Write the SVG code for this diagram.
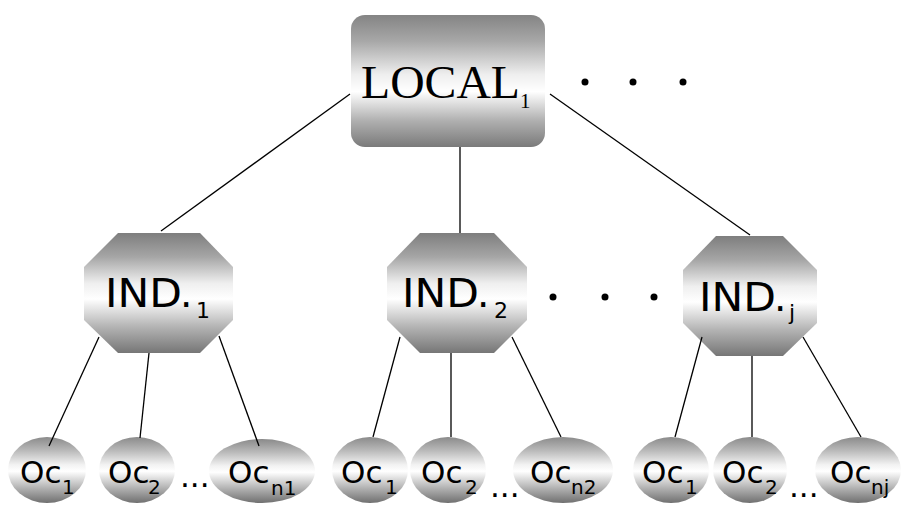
<svg xmlns="http://www.w3.org/2000/svg" width="901" height="505" viewBox="0 0 901 505">
<defs>
<linearGradient id="gBox" x1="0" y1="0" x2="0" y2="1">
<stop offset="0" stop-color="#848484"/>
<stop offset="0.2" stop-color="#a8a8a8"/>
<stop offset="0.45" stop-color="#eeeeee"/>
<stop offset="0.58" stop-color="#ffffff"/>
<stop offset="0.8" stop-color="#b0b0b0"/>
<stop offset="1" stop-color="#7a7a7a"/>
</linearGradient>
<linearGradient id="gOct" x1="0" y1="0" x2="0" y2="1">
<stop offset="0" stop-color="#7e7e7e"/>
<stop offset="0.2" stop-color="#a6a6a6"/>
<stop offset="0.42" stop-color="#efefef"/>
<stop offset="0.55" stop-color="#ffffff"/>
<stop offset="0.78" stop-color="#b4b4b4"/>
<stop offset="1" stop-color="#767676"/>
</linearGradient>
<linearGradient id="gEl" x1="0" y1="0" x2="0" y2="1">
<stop offset="0" stop-color="#8a8a8a"/>
<stop offset="0.2" stop-color="#b8b8b8"/>
<stop offset="0.42" stop-color="#f2f2f2"/>
<stop offset="0.52" stop-color="#ffffff"/>
<stop offset="0.78" stop-color="#b0b0b0"/>
<stop offset="1" stop-color="#707070"/>
</linearGradient>
</defs>
<style>
.box{fill:url(#gBox)}
.oct{fill:url(#gOct)}
.el{fill:url(#gEl)}
.serif{font-family:"Liberation Serif","Times New Roman",serif;fill:#000}
.sans{font-family:"DejaVu Sans",Verdana,sans-serif;fill:#000}
.ind{font-size:39px}
.indsub{font-size:22px}
.oc{font-size:31px}
.ocsub{font-size:20px}
.edge{stroke:#000;stroke-width:1.3;fill:none}
.dot{fill:#000}
</style>
<rect width="901" height="505" fill="#fff"/>

<g id="local1">
<rect class="box" x="351" y="15" width="194" height="132" rx="14" ry="14"/>
<text class="serif" x="361" y="98" font-size="47" textLength="159" lengthAdjust="spacingAndGlyphs">LOCAL</text>
<text class="serif" x="520" y="108" font-size="21">1</text>
</g>

<g id="dots-top">
<circle class="dot" cx="585" cy="82" r="3.5"/>
<circle class="dot" cx="633" cy="82" r="3.5"/>
<circle class="dot" cx="683" cy="82" r="3.5"/>
</g>

<g id="ind1">
<polygon class="oct" points="118,233 200,233 233,267 233,320 200,353 118,353 84,320 84,267"/>
<text class="sans ind" x="105" y="307" textLength="77" lengthAdjust="spacingAndGlyphs">IND</text>
<text class="sans ind" x="180" y="307">.</text>
<text class="sans indsub" x="196" y="318">1</text>
</g>

<g id="ind2">
<polygon class="oct" points="420,233 494,233 527,267 527,320 494,353 420,353 387,320 387,267"/>
<text class="sans ind" x="402" y="307" textLength="77" lengthAdjust="spacingAndGlyphs">IND</text>
<text class="sans ind" x="477" y="307">.</text>
<text class="sans indsub" x="494" y="318">2</text>
</g>

<g id="dots-mid">
<circle class="dot" cx="553" cy="297" r="3.5"/>
<circle class="dot" cx="605" cy="297" r="3.5"/>
<circle class="dot" cx="654" cy="297" r="3.5"/>
</g>

<g id="indj">
<polygon class="oct" points="716,236 783,236 817,270 817,323 783,356 716,356 683,323 683,270"/>
<text class="sans ind" x="699" y="311" textLength="77" lengthAdjust="spacingAndGlyphs">IND</text>
<text class="sans ind" x="774" y="311">.</text>
<text class="sans indsub" x="789" y="320">j</text>
</g>

<g id="g1-oc1">
<ellipse class="el" cx="47" cy="470" rx="39" ry="33"/>
<text class="sans oc" x="20" y="483">Oc</text>
<text class="sans ocsub" x="62" y="494">1</text>
</g>
<g id="g1-oc2">
<ellipse class="el" cx="137" cy="470" rx="38" ry="33"/>
<text class="sans oc" x="108" y="483">Oc</text>
<text class="sans ocsub" x="148" y="494">2</text>
</g>
<text class="sans oc" x="180" y="487">...</text>
<g id="g1-ocn1">
<ellipse class="el" cx="262" cy="471" rx="53" ry="32"/>
<text class="sans oc" x="228" y="483">Oc</text>
<text class="sans ocsub" x="271" y="495">n1</text>
</g>

<g id="g2-oc1">
<ellipse class="el" cx="370" cy="470" rx="38" ry="33"/>
<text class="sans oc" x="341" y="483">Oc</text>
<text class="sans ocsub" x="385" y="494">1</text>
</g>
<g id="g2-oc2">
<ellipse class="el" cx="448" cy="470" rx="38" ry="33"/>
<text class="sans oc" x="421" y="483">Oc</text>
<text class="sans ocsub" x="465" y="494">2</text>
</g>
<text class="sans oc" x="490" y="497">...</text>
<g id="g2-ocn2">
<ellipse class="el" cx="563" cy="470" rx="50" ry="33"/>
<text class="sans oc" x="530" y="483">Oc</text>
<text class="sans ocsub" x="571" y="494">n2</text>
</g>

<g id="g3-oc1">
<ellipse class="el" cx="671" cy="470" rx="38" ry="33"/>
<text class="sans oc" x="642" y="483">Oc</text>
<text class="sans ocsub" x="685" y="494">1</text>
</g>
<g id="g3-oc2">
<ellipse class="el" cx="750" cy="470" rx="37" ry="33"/>
<text class="sans oc" x="722" y="483">Oc</text>
<text class="sans ocsub" x="765" y="494">2</text>
</g>
<text class="sans oc" x="789" y="497">...</text>
<g id="g3-ocnj">
<ellipse class="el" cx="858" cy="470" rx="43" ry="33"/>
<text class="sans oc" x="830" y="483">Oc</text>
<text class="sans ocsub" x="871" y="494">nj</text>
</g>

<g id="connectors">
<line class="edge" x1="350" y1="94" x2="161" y2="231"/>
<line class="edge" x1="460" y1="147" x2="460" y2="233"/>
<line class="edge" x1="550" y1="94" x2="750" y2="235"/>
<line class="edge" x1="99" y1="337" x2="49" y2="446"/>
<line class="edge" x1="149" y1="353" x2="140" y2="438"/>
<line class="edge" x1="219" y1="336" x2="259" y2="446"/>
<line class="edge" x1="400" y1="337" x2="373" y2="437"/>
<line class="edge" x1="451" y1="353" x2="451" y2="437"/>
<line class="edge" x1="512" y1="337" x2="561" y2="437"/>
<line class="edge" x1="702" y1="337" x2="675" y2="437"/>
<line class="edge" x1="752" y1="356" x2="752" y2="437"/>
<line class="edge" x1="803" y1="337" x2="861" y2="437"/>
</g>
</svg>
